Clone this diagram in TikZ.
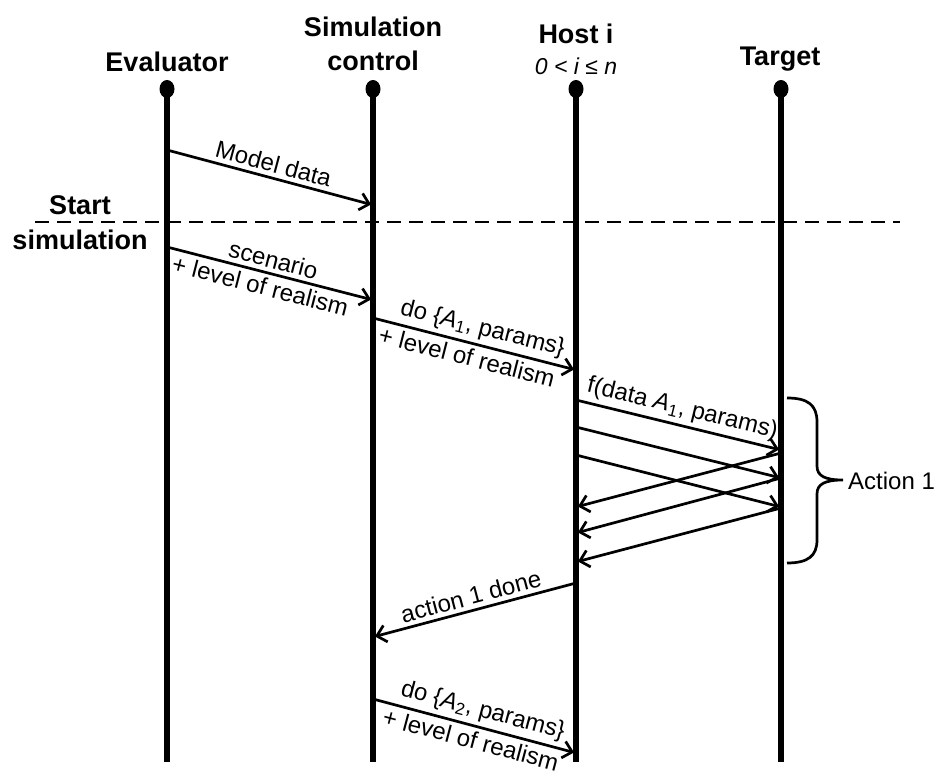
\documentclass[tikz,border=0pt]{standalone}
\usepackage{fontspec}
\setmainfont{Liberation Sans}
\usetikzlibrary{arrows.meta,shapes.geometric}
\begin{document}
\begin{tikzpicture}[x=1pt,y=-1pt,
  life/.style={line width=5.5pt},
  dotnode/.style={ellipse,fill=black,inner sep=0pt,minimum width=15pt,minimum height=18pt},
  msg/.style={line width=2.7pt,-{Straight Barb[length=9pt,width=17pt]},shorten >=2pt},
  lbl/.style={font=\fontsize{24}{26}\selectfont,sloped,inner sep=4pt},
  hdr/.style={font=\bfseries\fontsize{27}{34}\selectfont,align=center,inner sep=0pt},
  bracestyle/.style={line width=2.7pt},
  dashline/.style={line width=2.8pt,dash pattern=on 14pt off 8pt},
]
\useasboundingbox (0,0) rectangle (938,775);

% lifelines
\foreach \n/\x in {E/167,S/373,H/576,T/781}{
  \node[dotnode] (d\n) at (\x,89) {};
  \coordinate (b\n) at (\x,762);
  \draw[life] (d\n.center) -- (b\n);
}

% headers
\node[hdr] (hE) at (167,62) {Evaluator};
\node[hdr] (hS) at (373,44) {Simulation\\control};
\node[hdr] (hH) at (576,34) {Host i};
\node[font=\itshape\fontsize{23}{25}\selectfont,inner sep=0pt] (hHs) at (576,66) {0 < i ≤ n};
\node[hdr] (hT) at (780,59) {Target};

% start simulation
\node[hdr] (st1) at (80,205) {Start};
\node[hdr] (st2) at (80,240) {simulation};
\coordinate (dl1) at (35,222);
\coordinate (dl2) at (900,222);
\draw[dashline] (dl1) -- (dl2);

% messages
\coordinate (m1a) at (167,150); \coordinate (m1b) at (373,205);
\draw[msg] (m1a) -- node[lbl,above,pos=0.5] {Model data} (m1b);

\coordinate (m2a) at (167,247); \coordinate (m2b) at (373,300);
\draw[msg] (m2a) -- node[lbl,above,pos=0.5] {scenario}
                    node[lbl,below,pos=0.47] {+ level of realism} (m2b);

\coordinate (m3a) at (373,318); \coordinate (m3b) at (576,370);
\draw[msg] (m3a) -- node[lbl,above,pos=0.52] {do \{\textit{A}\textsubscript{1}, params\}}
                    node[lbl,below,pos=0.48] {+ level of realism} (m3b);

\coordinate (f1a) at (576,400); \coordinate (f1b) at (781,450);
\draw[msg] (f1a) -- node[lbl,above,pos=0.5] {f(data \textit{A}\textsubscript{1}, params)} (f1b);
\coordinate (f2a) at (576,427); \coordinate (f2b) at (781,478);
\draw[msg] (f2a) -- (f2b);
\coordinate (f3a) at (576,455); \coordinate (f3b) at (781,507);
\draw[msg] (f3a) -- (f3b);

\coordinate (r1a) at (781,453); \coordinate (r1b) at (576,507);
\draw[msg] (r1a) -- (r1b);
\coordinate (r2a) at (781,478); \coordinate (r2b) at (576,533);
\draw[msg] (r2a) -- (r2b);
\coordinate (r3a) at (781,508); \coordinate (r3b) at (576,562);
\draw[msg] (r3a) -- (r3b);

% brace
\coordinate (br1) at (787,398);
\coordinate (br2) at (787,563);
\draw[bracestyle] (br1) .. controls (808,398) and (817,405) .. (817,422) -- (817,466)
  .. controls (817,476) and (825,480) .. (843,480)
  .. controls (825,480) and (817,484) .. (817,494) -- (817,540)
  .. controls (817,556) and (808,563) .. (br2);
\node[anchor=west,font=\fontsize{24}{26}\selectfont,inner sep=0pt] (act) at (848,481) {Action 1};

\coordinate (d1a) at (576,583); \coordinate (d1b) at (373,637);
\draw[msg] (d1a) -- node[lbl,above,pos=0.5] {action 1 done} (d1b);

\coordinate (m4a) at (373,699); \coordinate (m4b) at (576,753);
\draw[msg] (m4a) -- node[lbl,above,pos=0.52] {do \{\textit{A}\textsubscript{2}, params\}}
                    node[lbl,below,pos=0.5] {+ level of realism} (m4b);
\end{tikzpicture}
\end{document}
